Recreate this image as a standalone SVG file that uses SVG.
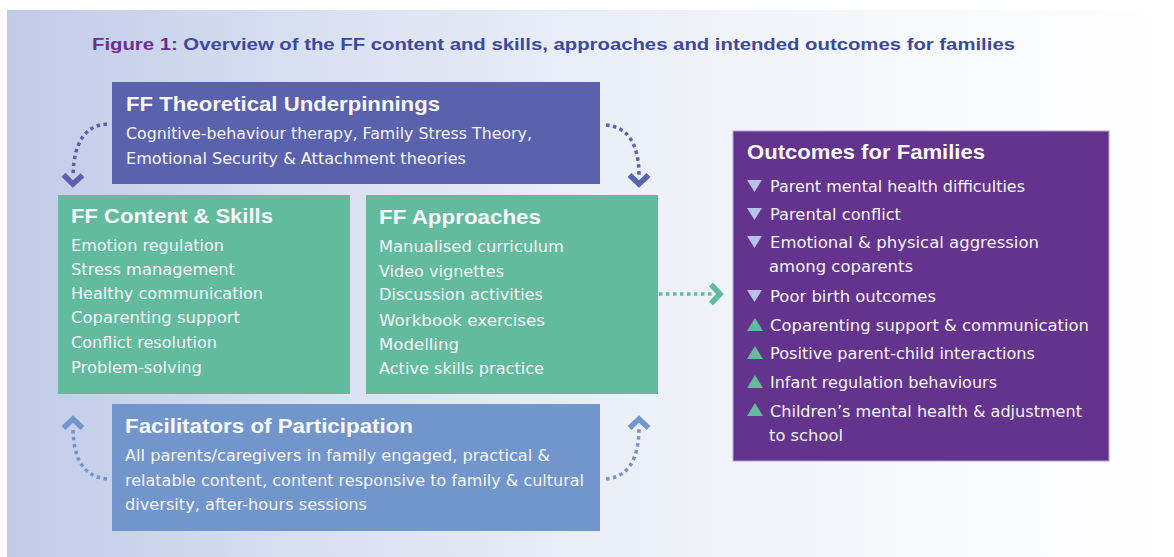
<svg xmlns="http://www.w3.org/2000/svg" width="1174" height="557" viewBox="0 0 1174 557">
<defs>
<linearGradient id="bgGrad" x1="0" y1="0" x2="1" y2="0">
<stop offset="0" stop-color="#c1cbe7"/>
<stop offset="0.25" stop-color="#d8dff0"/>
<stop offset="0.5" stop-color="#eaeef7"/>
<stop offset="0.75" stop-color="#f7f8fc"/>
<stop offset="1" stop-color="#ffffff"/>
</linearGradient>
<marker id="arrTheory" markerUnits="userSpaceOnUse" markerWidth="30" markerHeight="30" viewBox="-15 -15 30 30" refX="0" refY="0" orient="auto">
<path d="M-1,-9.5 L8,0 L-1,9.5" fill="none" stroke="#5a62ad" stroke-width="5.5"/>
</marker>
<marker id="arrFacil" markerUnits="userSpaceOnUse" markerWidth="30" markerHeight="30" viewBox="-15 -15 30 30" refX="0" refY="0" orient="auto">
<path d="M-1,-9.5 L8,0 L-1,9.5" fill="none" stroke="#7296cc" stroke-width="5.5"/>
</marker>
<marker id="arrGreen" markerUnits="userSpaceOnUse" markerWidth="30" markerHeight="30" viewBox="-15 -15 30 30" refX="0" refY="0" orient="auto">
<path d="M-1,-9.5 L8,0 L-1,9.5" fill="none" stroke="#62bb9d" stroke-width="5.5"/>
</marker>
</defs>
<style>
.title{font-family:"Liberation Sans",Arial,sans-serif;font-weight:bold;font-size:16px}
.head{font-family:"Liberation Sans",Arial,sans-serif;font-weight:bold;font-size:20px;fill:#f8f8fc}
.body{font-family:"DejaVu Sans","Liberation Sans",sans-serif;font-size:15px;fill:#f4f4f9}
.dots{fill:none;stroke-width:3.5;stroke-dasharray:3.5 3.5}
.down{fill:#b6c2e8}
.up{fill:#62bb9d}
</style>
<rect x="0" y="0" width="1174" height="557" fill="#ffffff"/>
<rect id="background" x="7" y="10" width="1167" height="547" fill="url(#bgGrad)"/>
<text id="figure-title" class="title" x="92" y="50" textLength="923" lengthAdjust="spacingAndGlyphs"><tspan fill="#6b2f8f">Figure 1:</tspan><tspan fill="#3b4a9e"> Overview of the FF content and skills, approaches and intended outcomes for families</tspan></text>

<g id="connectors">
<path class="dots" stroke="#5a62ad" d="M107,124 Q74,126 73,176" marker-end="url(#arrTheory)"/>
<path class="dots" stroke="#5a62ad" d="M606,125 Q639,128 639,176" marker-end="url(#arrTheory)"/>
<path class="dots" stroke="#7296cc" d="M107,479 Q73,476 73,427" marker-end="url(#arrFacil)"/>
<path class="dots" stroke="#7296cc" d="M606,479 Q639,476 639,427" marker-end="url(#arrFacil)"/>
<path class="dots" stroke="#62bb9d" d="M659,294 L712,294" marker-end="url(#arrGreen)"/>
</g>

<g id="node-theory">
<rect x="112" y="82" width="488" height="102" fill="#5a62ad"/>
<text class="head" x="126" y="111" textLength="314" lengthAdjust="spacingAndGlyphs">FF Theoretical Underpinnings</text>
<text class="body" x="126" y="139" textLength="406" lengthAdjust="spacingAndGlyphs">Cognitive-behaviour therapy, Family Stress Theory,</text>
<text class="body" x="126" y="164" textLength="340" lengthAdjust="spacingAndGlyphs">Emotional Security &amp; Attachment theories</text>
</g>

<g id="node-content">
<rect x="58" y="195" width="292" height="199" fill="#62bb9d"/>
<text class="head" x="71" y="223" style="font-size:21px" textLength="202" lengthAdjust="spacingAndGlyphs">FF Content &amp; Skills</text>
<text class="body" x="71" y="250.5" textLength="153" lengthAdjust="spacingAndGlyphs">Emotion regulation</text>
<text class="body" x="71" y="275" textLength="164" lengthAdjust="spacingAndGlyphs">Stress management</text>
<text class="body" x="71" y="298.5" textLength="192" lengthAdjust="spacingAndGlyphs">Healthy communication</text>
<text class="body" x="71" y="322.5" textLength="169" lengthAdjust="spacingAndGlyphs">Coparenting support</text>
<text class="body" x="71" y="348" textLength="146" lengthAdjust="spacingAndGlyphs">Conflict resolution</text>
<text class="body" x="71" y="372.5" textLength="131" lengthAdjust="spacingAndGlyphs">Problem-solving</text>
</g>

<g id="node-approaches">
<rect x="366" y="195" width="292" height="199" fill="#62bb9d"/>
<text class="head" x="379" y="224" style="font-size:21px" textLength="162" lengthAdjust="spacingAndGlyphs">FF Approaches</text>
<text class="body" x="379" y="252" textLength="185" lengthAdjust="spacingAndGlyphs">Manualised curriculum</text>
<text class="body" x="379" y="276.5" textLength="125" lengthAdjust="spacingAndGlyphs">Video vignettes</text>
<text class="body" x="379" y="300" textLength="164" lengthAdjust="spacingAndGlyphs">Discussion activities</text>
<text class="body" x="379" y="326" textLength="166" lengthAdjust="spacingAndGlyphs">Workbook exercises</text>
<text class="body" x="379" y="350" textLength="80" lengthAdjust="spacingAndGlyphs">Modelling</text>
<text class="body" x="379" y="374" textLength="165" lengthAdjust="spacingAndGlyphs">Active skills practice</text>
</g>

<g id="node-facilitators">
<rect x="112" y="404" width="488" height="127" fill="#7296cc"/>
<text class="head" x="125" y="433" textLength="288" lengthAdjust="spacingAndGlyphs">Facilitators of Participation</text>
<text class="body" x="125" y="461" textLength="425" lengthAdjust="spacingAndGlyphs">All parents/caregivers in family engaged, practical &amp;</text>
<text class="body" x="125" y="486" textLength="459" lengthAdjust="spacingAndGlyphs">relatable content, content responsive to family &amp; cultural</text>
<text class="body" x="125" y="510" textLength="242" lengthAdjust="spacingAndGlyphs">diversity, after-hours sessions</text>
</g>

<g id="node-outcomes">
<rect x="733" y="131" width="376" height="330" fill="#63338d" stroke="#b9a3d6" stroke-width="1"/>
<text class="head" x="747" y="159" textLength="238" lengthAdjust="spacingAndGlyphs">Outcomes for Families</text>
<polygon class="down" points="747,180 762,180 754.5,192"/>
<text class="body" x="770" y="192" textLength="255" lengthAdjust="spacingAndGlyphs">Parent mental health difficulties</text>
<polygon class="down" points="747,208 762,208 754.5,220"/>
<text class="body" x="770" y="220" textLength="131" lengthAdjust="spacingAndGlyphs">Parental conflict</text>
<polygon class="down" points="747,236 762,236 754.5,248"/>
<text class="body" x="770" y="248" textLength="269" lengthAdjust="spacingAndGlyphs">Emotional &amp; physical aggression</text>
<text class="body" x="769" y="272" textLength="144" lengthAdjust="spacingAndGlyphs">among coparents</text>
<polygon class="down" points="747,290 762,290 754.5,302"/>
<text class="body" x="770" y="302" textLength="166" lengthAdjust="spacingAndGlyphs">Poor birth outcomes</text>
<polygon class="up" points="747,331 763,331 755,318"/>
<text class="body" x="770" y="331" textLength="319" lengthAdjust="spacingAndGlyphs">Coparenting support &amp; communication</text>
<polygon class="up" points="747,359 763,359 755,346"/>
<text class="body" x="770" y="359" textLength="265" lengthAdjust="spacingAndGlyphs">Positive parent-child interactions</text>
<polygon class="up" points="747,388 763,388 755,375"/>
<text class="body" x="770" y="388" textLength="227" lengthAdjust="spacingAndGlyphs">Infant regulation behaviours</text>
<polygon class="up" points="747,416 763,416 755,403"/>
<text class="body" x="770" y="417" textLength="312" lengthAdjust="spacingAndGlyphs">Children’s mental health &amp; adjustment</text>
<text class="body" x="769" y="441" textLength="74" lengthAdjust="spacingAndGlyphs">to school</text>
</g>
</svg>
